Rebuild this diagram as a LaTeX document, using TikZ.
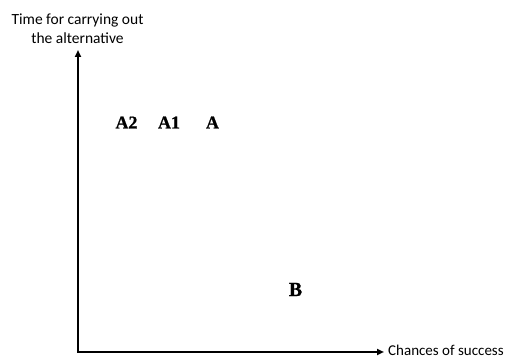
\documentclass[tikz,border=0pt]{standalone}
\usepackage{fontspec}
\setmainfont{Carlito}
\newfontfamily\letterfont[BoldFeatures={FakeBold=0.8}]{Liberation Serif}
\usetikzlibrary{arrows.meta}
\begin{document}
\begin{tikzpicture}[x=1pt,y=1pt,
  axis/.style={line width=2pt,-{Triangle[length=7pt,width=6pt]}},
  lbl/.style={font=\fontsize{15.5}{19}\selectfont,inner sep=0pt},
  xlbl/.style={font=\fontsize{15}{17}\selectfont,inner sep=0pt},
  pt/.style={font=\letterfont\bfseries\fontsize{18}{20}\selectfont,inner sep=0pt},
  ptb/.style={font=\letterfont\bfseries\fontsize{20}{22}\selectfont,inner sep=0pt}]
\useasboundingbox (0,0) rectangle (509,358);
\coordinate (o) at (78,6);
\coordinate (ytop) at (78,308);
\coordinate (xend) at (384,6);
\draw[axis] (o) -- (ytop);
\draw[axis] ([xshift=-1pt]o) -- (xend);
\node[lbl,align=center] (ylab) at (77.5,329) {Time for carrying out\\the alternative};
\node[xlbl,anchor=west] (xlab) at (388,7.5) {Chances of success};
\node[pt] (a2) at (126.5,235.5) {A2};
\node[pt] (a1) at (169,235.5) {A1};
\node[pt] (a) at (212.5,235.5) {A};
\node[ptb] (b) at (295.5,68.5) {B};
\end{tikzpicture}
\end{document}
